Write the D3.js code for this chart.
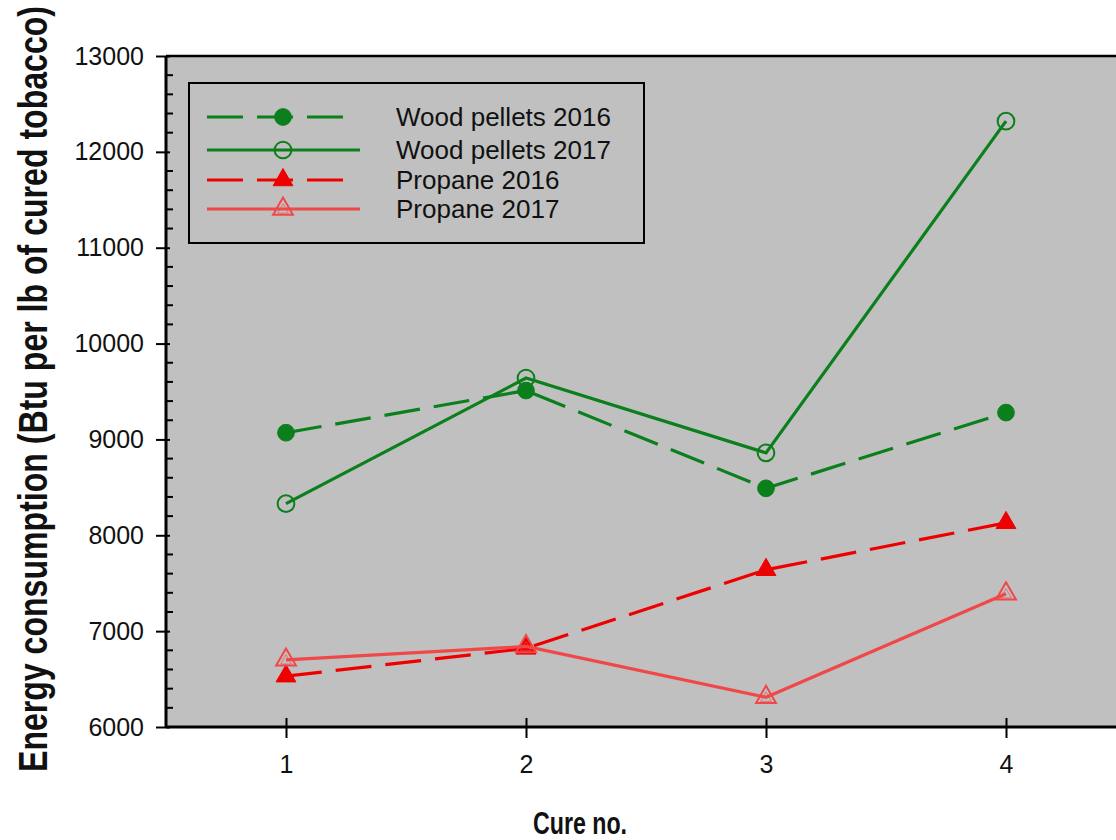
<!DOCTYPE html>
<html>
<head>
<meta charset="utf-8">
<script src="https://cdn.jsdelivr.net/npm/d3@7"></script>
<style>
  body { margin: 0; background: #fff; }
  svg text { font-family: "Liberation Sans", Arial, sans-serif; fill: #111; }
</style>
</head>
<body>
<div id="chart"></div>
<script>
// data
var cures = [1, 2, 3, 4];
var wood2016 = [9070, 9510, 8490, 9280];
var wood2017 = [8330, 9640, 8860, 12320];
var propane2016 = [6530, 6820, 7640, 8130];
var propane2017 = [6700, 6840, 6310, 7390];
var yTicks = [6000, 7000, 8000, 9000, 10000, 11000, 12000, 13000];
var seriesNames = ["Wood pellets 2016", "Wood pellets 2017", "Propane 2016", "Propane 2017"];

var svgWidth = 1116;
var svgHeight = 840;

var svg = d3.select("#chart")
    .append("svg")
    .attr("width", svgWidth)
    .attr("height", svgHeight);

// plot area (right side runs off the picture)
var plotLeft = 166, plotTop = 56, plotBottom = 727, plotRight = 1126;

var x = d3.scaleLinear().domain([0.5, 4.5]).range([plotLeft, plotRight]);
var y = d3.scaleLinear().domain([6000, 13000]).range([plotBottom, plotTop]);

svg.append("rect")
    .attr("x", plotLeft).attr("y", plotTop)
    .attr("width", plotRight - plotLeft).attr("height", plotBottom - plotTop)
    .attr("fill", "#c0c0c0");

var series = [
    { name: seriesNames[0], values: wood2016, color: "#0b7f1c", dash: "36,14", marker: "circle", fill: true },
    { name: seriesNames[1], values: wood2017, color: "#0b7f1c", dash: null, marker: "circle", fill: false },
    { name: seriesNames[2], values: propane2016, color: "#ee0000", dash: "36,14", marker: "triangle", fill: true },
    { name: seriesNames[3], values: propane2017, color: "#f04848", dash: null, marker: "triangle", fill: false }
];

var line = d3.line()
    .x(d => x(d.c))
    .y(d => y(d.v));

var circleSym = d3.symbol().type(d3.symbolCircle).size(220);
var triSym = d3.symbol().type(d3.symbolTriangle).size(170);
var triInner = d3.symbol().type(d3.symbolTriangle).size(50);

function drawMarker(g, s, px, py) {
    var path = g.append("path")
        .attr("transform", `translate(${px},${py})`)
        .attr("d", s.marker === "circle" ? circleSym() : triSym());
    if (s.fill) {
        path.attr("fill", s.color).attr("stroke", s.color).attr("stroke-width", 1);
    } else {
        path.attr("fill", "none").attr("stroke", s.color).attr("stroke-width", 2);
        if (s.marker === "triangle") {
            g.append("path")
                .attr("transform", `translate(${px},${py + 1})`)
                .attr("d", triInner())
                .attr("fill", "none")
                .attr("stroke", s.color)
                .attr("stroke-opacity", 0.6)
                .attr("stroke-width", 1);
        }
    }
}

var linesGroup = svg.append("g");

series.forEach(function(s) {
    var pts = cures.map((c, i) => ({ c: c, v: s.values[i] }));
    linesGroup.append("path")
        .datum(pts)
        .attr("d", line)
        .attr("fill", "none")
        .attr("stroke", s.color)
        .attr("stroke-width", 3.2)
        .attr("stroke-dasharray", s.dash);
    pts.forEach(function(p) {
        drawMarker(linesGroup, s, x(p.c), y(p.v));
    });
});

// axes
var leftAxis = d3.axisLeft(y).tickValues(yTicks).tickFormat(d3.format("d")).tickSize(10).tickPadding(12);
var yAxis = svg.append("g")
    .attr("transform", `translate(${plotLeft},0)`)
    .call(leftAxis);
yAxis.select(".domain").remove();
yAxis.selectAll(".tick line").attr("x2", -10).attr("x1", 4).attr("stroke", "#000").attr("stroke-width", 2);
yAxis.selectAll(".tick text")
    .style("font-size", "25px").style("fill", "#111")
    .style("font-family", "'Liberation Sans', Arial, sans-serif");

// minor ticks every 200
var minor = d3.range(6200, 13000, 200).filter(v => v % 1000 !== 0);
svg.append("g").selectAll("line")
    .data(minor)
    .enter()
    .append("line")
    .attr("x1", plotLeft).attr("x2", plotLeft + 7)
    .attr("y1", d => y(d)).attr("y2", d => y(d))
    .attr("stroke", "#000").attr("stroke-width", 2);

var bottomAxis = d3.axisBottom(x).tickValues(cures).tickFormat(d3.format("d")).tickSize(10).tickPadding(18);
var xAxis = svg.append("g")
    .attr("transform", `translate(0,${plotBottom})`)
    .call(bottomAxis);
xAxis.select(".domain").remove();
xAxis.selectAll(".tick line").attr("y1", -9).attr("y2", 11).attr("stroke", "#000").attr("stroke-width", 2);
xAxis.selectAll(".tick text")
    .style("font-size", "25px").style("fill", "#111")
    .style("font-family", "'Liberation Sans', Arial, sans-serif");

// frame lines
svg.append("line").attr("x1", plotLeft).attr("x2", svgWidth).attr("y1", plotTop).attr("y2", plotTop)
    .attr("stroke", "#000").attr("stroke-width", 2.5);
svg.append("line").attr("x1", plotLeft).attr("x2", svgWidth).attr("y1", plotBottom).attr("y2", plotBottom)
    .attr("stroke", "#000").attr("stroke-width", 3);
svg.append("line").attr("x1", plotLeft).attr("x2", plotLeft).attr("y1", plotTop).attr("y2", plotBottom)
    .attr("stroke", "#000").attr("stroke-width", 3);

// axis titles
svg.append("text")
    .attr("transform", "translate(47,389) scale(1.45,1) rotate(-90)")
    .attr("text-anchor", "middle")
    .attr("font-size", 28)
    .attr("font-weight", "bold")
    .attr("textLength", 766)
    .attr("lengthAdjust", "spacingAndGlyphs")
    .text("Energy consumption (Btu per lb of cured tobacco)");

svg.append("text")
    .attr("x", 580).attr("y", 834)
    .attr("text-anchor", "middle")
    .attr("font-size", 31)
    .attr("font-weight", "bold")
    .attr("textLength", 94)
    .attr("lengthAdjust", "spacingAndGlyphs")
    .text("Cure no.");

// legend
var legend = svg.append("g");
legend.append("rect")
    .attr("x", 189).attr("y", 83)
    .attr("width", 455).attr("height", 160)
    .attr("fill", "none")
    .attr("stroke", "#000").attr("stroke-width", 2);

var legendY = [117, 150, 180, 209];
series.forEach(function(s, i) {
    legend.append("line")
        .attr("x1", 207).attr("x2", s.dash ? 344 : 360)
        .attr("y1", legendY[i]).attr("y2", legendY[i])
        .attr("stroke", s.color).attr("stroke-width", 3.2)
        .attr("stroke-dasharray", s.dash);
    drawMarker(legend, s, 283, legendY[i]);
    legend.append("text")
        .attr("x", 396).attr("y", legendY[i] + 9)
        .style("font-size", "26px")
        .text(s.name);
});
</script>
</body>
</html>
